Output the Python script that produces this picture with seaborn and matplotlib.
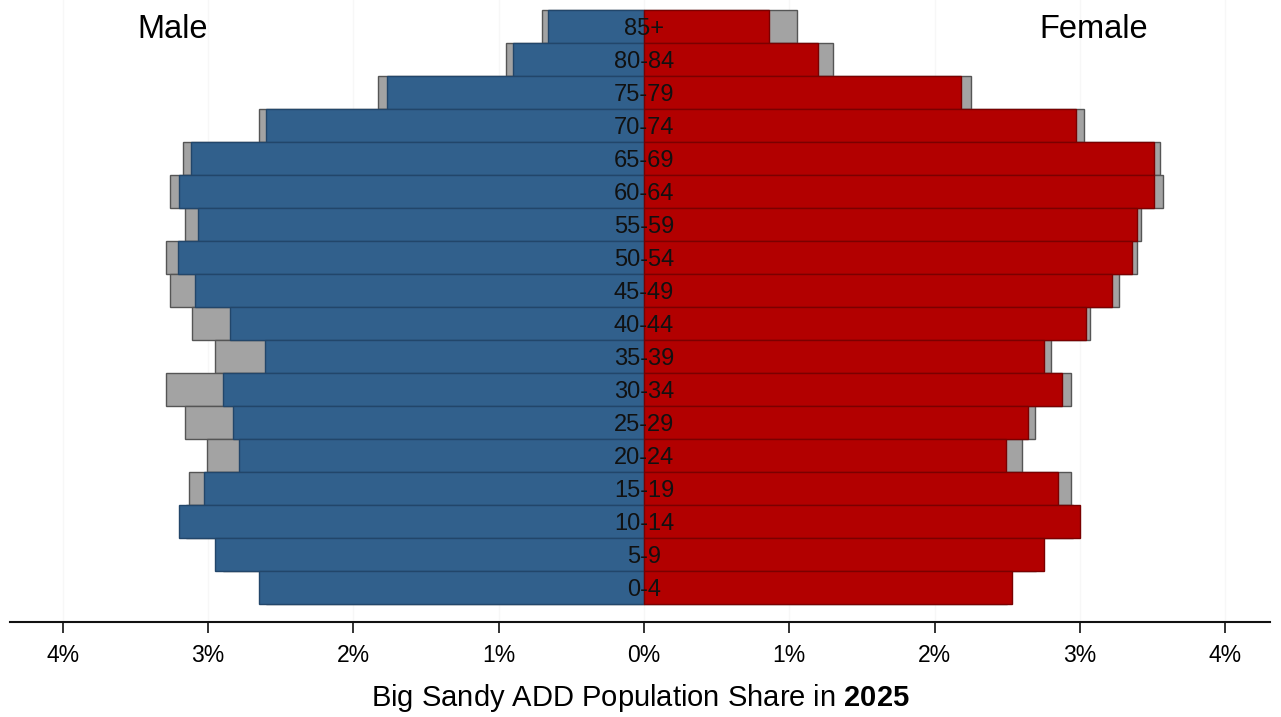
import matplotlib
matplotlib.use("Agg")
import matplotlib.pyplot as plt
import seaborn as sns
import pandas as pd

# age groups, youngest first
ages = ["0-4", "5-9", "10-14", "15-19", "20-24", "25-29", "30-34", "35-39", "40-44",
        "45-49", "50-54", "55-59", "60-64", "65-69", "70-74", "75-79", "80-84", "85+"]

# population share (%) in 2025
male = [2.65, 2.95, 3.20, 3.03, 2.79, 2.83, 2.90, 2.61, 2.85,
        3.09, 3.21, 3.07, 3.20, 3.12, 2.60, 1.77, 0.90, 0.66]
female = [2.53, 2.75, 3.00, 2.85, 2.49, 2.64, 2.88, 2.75, 3.04,
          3.22, 3.36, 3.39, 3.51, 3.51, 2.97, 2.18, 1.20, 0.86]

# comparison shares (grey bars behind)
male_cmp = [2.60, 2.90, 3.15, 3.13, 3.01, 3.16, 3.29, 2.95, 3.11,
            3.26, 3.29, 3.16, 3.26, 3.17, 2.65, 1.83, 0.95, 0.70]
female_cmp = [2.50, 2.70, 2.95, 2.94, 2.60, 2.69, 2.94, 2.80, 3.07,
              3.27, 3.39, 3.42, 3.57, 3.55, 3.03, 2.25, 1.30, 1.05]

tick_vals = [-4, -3, -2, -1, 0, 1, 2, 3, 4]
tick_labels = ["4%", "3%", "2%", "1%", "0%", "1%", "2%", "3%", "4%"]

df = pd.DataFrame({
    "age": ages,
    "male": [-v for v in male],
    "female": female,
    "male_cmp": [-v for v in male_cmp],
    "female_cmp": female_cmp,
})
order = ages[::-1]

plt.rcParams["font.family"] = ["Liberation Sans", "DejaVu Sans"]
plt.rcParams["mathtext.fontset"] = "custom"
plt.rcParams["mathtext.rm"] = "Liberation Sans"
plt.rcParams["mathtext.bf"] = "Liberation Sans:bold"

W, H = 1281, 717
fig = plt.figure(figsize=(W / 100, H / 100), dpi=100)
ax = fig.add_axes([10 / W, 1 - 622 / H, 1260 / W, 622 / H])

for ref in tick_vals:
    ax.axvline(ref, color="#f7f7f7", lw=1, zorder=0)

kw = dict(y="age", order=order, orient="h", width=1.0, saturation=1,
          errorbar=None, ax=ax)
sns.barplot(data=df, x="male_cmp", color="#a3a3a3", edgecolor="#555555", linewidth=1, **kw)
sns.barplot(data=df, x="female_cmp", color="#a3a3a3", edgecolor="#555555", linewidth=1, **kw)
sns.barplot(data=df, x="male", color="#31608c", edgecolor="#22466a", linewidth=1, **kw)
sns.barplot(data=df, x="female", color="#b20000", edgecolor="#7a0000", linewidth=1, **kw)

for i, a in enumerate(order):
    ax.text(0, i, a, ha="center", va="center_baseline", fontsize=17, color="#111111", zorder=5)

ax.set_xlim(-4.363, 4.308)
ax.set_ylim(17.5 + 18 / 33, -0.5 - 10 / 33)
ax.set_xticks(tick_vals)
ax.set_xticklabels(tick_labels, fontsize=16.5)
ax.set_yticks([])
ax.set_ylabel("")
ax.tick_params(axis="x", length=8, width=1.2, pad=8, color="#111111")
for s in ["top", "left", "right"]:
    ax.spines[s].set_visible(False)
ax.spines["bottom"].set_linewidth(1.5)
ax.spines["bottom"].set_color("#111111")
ax.set_xlabel(r"Big Sandy ADD Population Share in $\bf{2025}$", fontsize=21, labelpad=11)

fig.text(173 / W, 1 - 38 / H, "Male", ha="center", va="baseline", fontsize=23.5)
fig.text(1094 / W, 1 - 38 / H, "Female", ha="center", va="baseline", fontsize=23.5)

fig.savefig("out.png", dpi=100, facecolor="white")
